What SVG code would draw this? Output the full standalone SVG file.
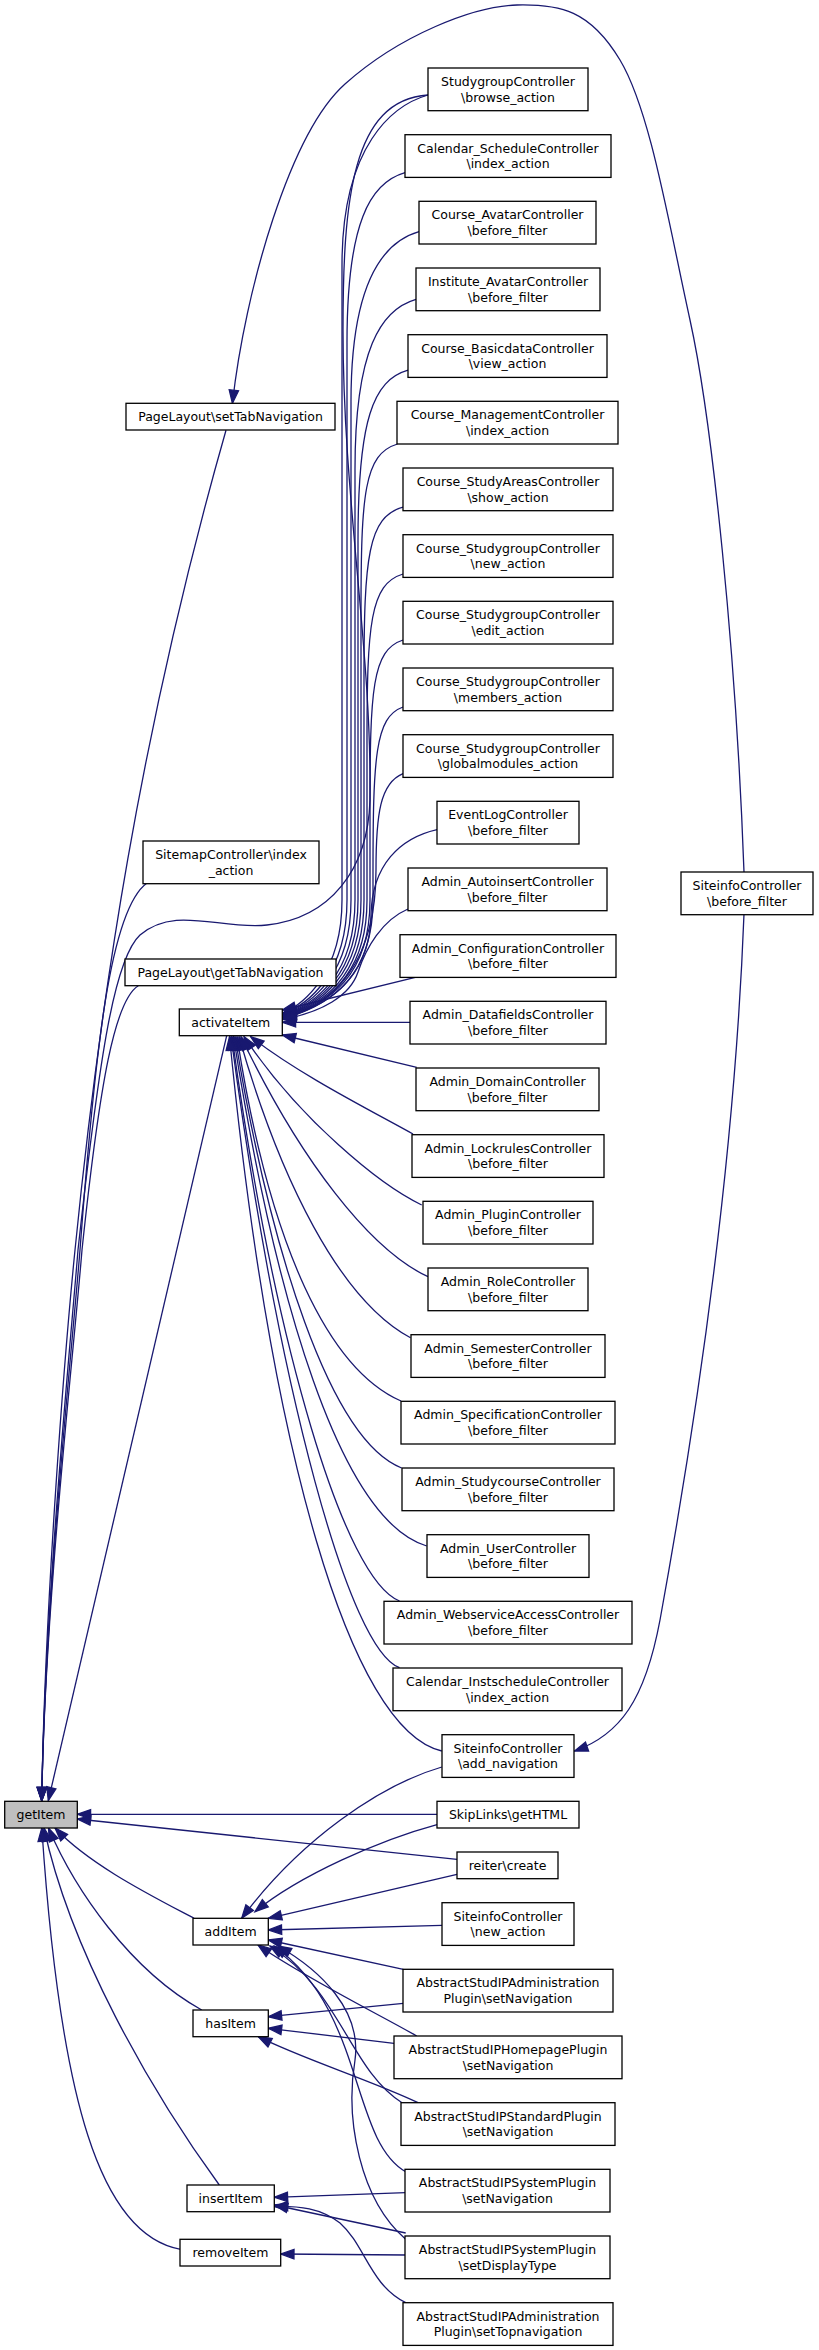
<svg xmlns="http://www.w3.org/2000/svg" width="819" height="2350" viewBox="0 0 819 2350">
<style>
.n rect{fill:#fff;stroke:#000;stroke-width:1.3}
.n text{font-family:"DejaVu Sans","Liberation Sans",sans-serif;font-size:12.5px;text-anchor:middle;fill:#000}
#edges path{fill:none;stroke:#191970;stroke-width:1.3;marker-end:url(#ah)}
</style>
<defs>
<marker id="ah" markerUnits="userSpaceOnUse" markerWidth="18" markerHeight="14" viewBox="-15 -7 18 14" refX="0" refY="0" orient="auto">
<path d="M-13.3,-4.7 L0,0 L-13.3,4.7 Z" fill="#191970" stroke="#191970" stroke-width="1.3"/>
</marker>
</defs>
<rect width="819" height="2350" fill="#fff"/>
<g id="edges">
<!-- big arc SiteinfoController before_filter -> setTabNavigation -->
<path d="M744,872 C736,650 712,420 690,320 C668,220 650,110 620,60 C590,10 560,4 517,5 C474,6 400,35 345,84 C290,133 245,290 232.4,403.4"/>
<!-- before_filter -> add_navigation -->
<path d="M744,914 C735,1150 700,1400 660,1620 C645,1700 620,1735 574.5,1751"/>
<!-- bundle into activateItem right side -->
<path d="M428,95 C393,105 342,145 342,265 L342,900 C342,975 302,1005 282.5,1013.5"/>
<path d="M405,172.7 C370,182.7 347,222.7 347,342.7 L347,900 C347,975 307,1005 282.5,1014"/>
<path d="M419,231.7 C384,241.7 351,281.7 351,401.7 L351,900 C351,975 311,1005 282.5,1014.5"/>
<path d="M416,299.3 C381,309.3 355,349.3 355,469.3 L355,900 C355,975 315,1005 282.5,1015"/>
<path d="M408,370.2 C373,380.2 358,420.2 358,540.2 L358,900 C358,975 318,1005 282.5,1015.5"/>
<path d="M397.5,444 C364,454 361,494 361,614 L361,900 C361,975 321,1005 282.5,1016"/>
<path d="M403,507 C368,517 364,557 364,677 L364,900 C364,975 324,1005 282.5,1016.5"/>
<path d="M403,574 C370,584 367,624 367,744 L367,900 C367,975 327,1005 282.5,1017"/>
<path d="M403,640 C372,650 370,690 370,810 L370,900 C370,975 330,1005 282.5,1017.5"/>
<path d="M403,707 C375,717 373,757 373,877 L373,900 C373,975 333,1005 282.5,1018"/>
<path d="M403,773.7 C380,783 376,815 376,870 C376,960 336,1005 282.5,1018.5"/>
<path d="M437,829.6 C400,838 372,865 371,915 C370,975 332,1005 282.5,1019"/>
<path d="M408,909 C382,920 366,948 358,972 C350,996 322,1012 282.5,1019.5"/>
<path d="M418.3,976.7 L282.3,1010"/>
<path d="M410,1022.3 L282.3,1022.3"/>
<path d="M416.7,1067.3 L282.3,1035"/>
<!-- fan into activateItem bottom -->
<path d="M413,1134 C370,1110 300,1075 250.7,1036.7"/>
<path d="M421.7,1205 C380,1185 300,1120 244,1036.7"/>
<path d="M428,1276.7 C370,1250 300,1160 241,1036.7"/>
<path d="M410.5,1337.8 C340,1300 280,1180 239,1036.7"/>
<path d="M401,1401 C330,1370 270,1250 237,1036.7"/>
<path d="M401.6,1468 C330,1440 270,1250 235,1036.7"/>
<path d="M426.7,1546 C340,1520 275,1300 233.5,1036.7"/>
<path d="M399.5,1601 C345,1580 275,1350 232,1036.7"/>
<path d="M399.5,1667.7 C350,1650 280,1400 231,1036.7"/>
<path d="M441.8,1751 C350,1730 270,1450 229.5,1036.7"/>
<!-- edges into getItem top -->
<path d="M226,430.3 C140.5,730 100,1000 75,1250 C65,1350 45,1600 41.7,1800.7"/>
<path d="M146.7,883.3 C110,910 95,1050 80,1250 C72,1350 45,1600 41.7,1800.7"/>
<path d="M138.3,985.7 C115,1000 100,1080 82,1250 C74,1350 45,1600 41.7,1800.7"/>
<path d="M428,95 C352,100 343,200 343,330 C343,500 372,650 370,800 C368,870 330,918 267,925 C220,930 175,905 140,935 C115,958 100,1050 78,1250 C70,1350 45,1600 41.7,1800.7"/>
<path d="M226.7,1035.7 L48.3,1800.7"/>
<!-- edges into getItem right / bottom -->
<path d="M437,1814.3 L77.3,1814.3"/>
<path d="M457,1859.4 L77.3,1819"/>
<path d="M194,1918.3 C150,1895 90,1865 55,1828"/>
<path d="M201.7,2010 C130,1970 75,1890 48.5,1828"/>
<path d="M219.3,2185 C150,2090 70,1950 44,1828"/>
<path d="M180.7,2249.4 C100,2235 60,2100 41.8,1828"/>
<!-- into addItem -->
<path d="M441.8,1767 C380,1785 300,1840 241.7,1918.3"/>
<path d="M437,1824.6 C380,1840 300,1875 255,1911.7"/>
<path d="M457,1874.4 L268.3,1918.3"/>
<path d="M442,1925.3 L268.3,1930"/>
<path d="M403.3,1969.3 L268.3,1940"/>
<path d="M416.7,2036 C380,2015 300,1975 258,1945"/>
<path d="M402,2102.7 C350,2070 340,1990 270,1946"/>
<path d="M405.7,2171.7 C350,2140 365,2010 274,1946"/>
<path d="M405.7,2239.3 C360,2200 345,2120 355,2060 C362,2010 320,1970 278,1946"/>
<!-- into hasItem -->
<path d="M403.3,2003.3 L268.3,2016.7"/>
<path d="M394,2043.3 L268.3,2028.3"/>
<path d="M418,2102.7 C370,2080 300,2058 258.3,2036.7"/>
<!-- into insertItem / removeItem -->
<path d="M405.7,2192.7 L274.3,2197.3"/>
<path d="M405.7,2233 L274.3,2205"/>
<path d="M405.7,2302.7 C370,2285 365,2245 340,2223 C320,2208 300,2206 274.3,2206.5"/>
<path d="M405.7,2255 L280.7,2254"/>
</g>
<g id="n_getItem" class="n"><rect x="4.7" y="1801.3" width="72.6" height="26.7" style="fill:#bfbfbf"/><text x="41" y="1819">getItem</text></g>
<g id="n_setTabNavigation" class="n"><rect x="126" y="403.3" width="209" height="26.7"/><text x="230.5" y="421">PageLayout\setTabNavigation</text></g>
<g id="n_sitemap" class="n"><rect x="143" y="841" width="176" height="42.7"/><text x="231" y="858.8">SitemapController\index</text><text x="231" y="874.5">_action</text></g>
<g id="n_getTabNavigation" class="n"><rect x="125" y="959" width="211" height="26.7"/><text x="230.5" y="976.7">PageLayout\getTabNavigation</text></g>
<g id="n_activateItem" class="n"><rect x="179.3" y="1009" width="103" height="26.7"/><text x="230.8" y="1026.7">activateItem</text></g>
<g id="n_addItem" class="n"><rect x="193" y="1918.3" width="75.3" height="26.7"/><text x="230.6" y="1936">addItem</text></g>
<g id="n_hasItem" class="n"><rect x="193" y="2010" width="75.3" height="26.7"/><text x="230.6" y="2027.7">hasItem</text></g>
<g id="n_insertItem" class="n"><rect x="187" y="2185" width="87.3" height="26.7"/><text x="230.6" y="2202.7">insertItem</text></g>
<g id="n_removeItem" class="n"><rect x="180" y="2239.3" width="100.7" height="26.7"/><text x="230.4" y="2257">removeItem</text></g>
<g id="n_siteinfo_before" class="n"><rect x="681" y="872" width="132" height="42.7"/><text x="747" y="889.8">SiteinfoController</text><text x="747" y="905.5">\before_filter</text></g>
<g id="n_browse" class="n"><rect x="428" y="68" width="160" height="42.7"/><text x="508" y="85.8">StudygroupController</text><text x="508" y="101.5">\browse_action</text></g>
<g id="n_cal_schedule" class="n"><rect x="405" y="134.7" width="206" height="42.7"/><text x="508" y="152.5">Calendar_ScheduleController</text><text x="508" y="168.2">\index_action</text></g>
<g id="n_course_avatar" class="n"><rect x="419" y="201.3" width="177" height="42.7"/><text x="507.5" y="219.1">Course_AvatarController</text><text x="507.5" y="234.8">\before_filter</text></g>
<g id="n_inst_avatar" class="n"><rect x="416" y="268" width="184" height="42.7"/><text x="508" y="285.8">Institute_AvatarController</text><text x="508" y="301.5">\before_filter</text></g>
<g id="n_basicdata" class="n"><rect x="408" y="334.7" width="199" height="42.7"/><text x="507.5" y="352.5">Course_BasicdataController</text><text x="507.5" y="368.2">\view_action</text></g>
<g id="n_management" class="n"><rect x="397" y="401.3" width="221" height="42.7"/><text x="507.5" y="419.1">Course_ManagementController</text><text x="507.5" y="434.8">\index_action</text></g>
<g id="n_studyareas" class="n"><rect x="403" y="468" width="210" height="42.7"/><text x="508" y="485.8">Course_StudyAreasController</text><text x="508" y="501.5">\show_action</text></g>
<g id="n_sg_new" class="n"><rect x="403" y="534.7" width="210" height="42.7"/><text x="508" y="552.5">Course_StudygroupController</text><text x="508" y="568.2">\new_action</text></g>
<g id="n_sg_edit" class="n"><rect x="403" y="601.3" width="210" height="42.7"/><text x="508" y="619.1">Course_StudygroupController</text><text x="508" y="634.8">\edit_action</text></g>
<g id="n_sg_members" class="n"><rect x="403" y="668" width="210" height="42.7"/><text x="508" y="685.8">Course_StudygroupController</text><text x="508" y="701.5">\members_action</text></g>
<g id="n_sg_global" class="n"><rect x="403" y="734.7" width="210" height="42.7"/><text x="508" y="752.5">Course_StudygroupController</text><text x="508" y="768.2">\globalmodules_action</text></g>
<g id="n_eventlog" class="n"><rect x="437" y="801.3" width="142" height="42.7"/><text x="508" y="819.1">EventLogController</text><text x="508" y="834.8">\before_filter</text></g>
<g id="n_autoinsert" class="n"><rect x="408" y="868" width="199" height="42.7"/><text x="507.5" y="885.8">Admin_AutoinsertController</text><text x="507.5" y="901.5">\before_filter</text></g>
<g id="n_configuration" class="n"><rect x="400" y="934.7" width="216" height="42.7"/><text x="508" y="952.5">Admin_ConfigurationController</text><text x="508" y="968.2">\before_filter</text></g>
<g id="n_datafields" class="n"><rect x="410" y="1001.3" width="196" height="42.7"/><text x="508" y="1019.1">Admin_DatafieldsController</text><text x="508" y="1034.8">\before_filter</text></g>
<g id="n_domain" class="n"><rect x="416" y="1068" width="183" height="42.7"/><text x="507.5" y="1085.8">Admin_DomainController</text><text x="507.5" y="1101.5">\before_filter</text></g>
<g id="n_lockrules" class="n"><rect x="412" y="1134.7" width="192" height="42.7"/><text x="508" y="1152.5">Admin_LockrulesController</text><text x="508" y="1168.2">\before_filter</text></g>
<g id="n_plugin" class="n"><rect x="423" y="1201.3" width="170" height="42.7"/><text x="508" y="1219.1">Admin_PluginController</text><text x="508" y="1234.8">\before_filter</text></g>
<g id="n_role" class="n"><rect x="428" y="1268" width="160" height="42.7"/><text x="508" y="1285.8">Admin_RoleController</text><text x="508" y="1301.5">\before_filter</text></g>
<g id="n_semester" class="n"><rect x="411" y="1334.7" width="194" height="42.7"/><text x="508" y="1352.5">Admin_SemesterController</text><text x="508" y="1368.2">\before_filter</text></g>
<g id="n_specification" class="n"><rect x="401" y="1401.3" width="214" height="42.7"/><text x="508" y="1419.1">Admin_SpecificationController</text><text x="508" y="1434.8">\before_filter</text></g>
<g id="n_studycourse" class="n"><rect x="402" y="1468" width="212" height="42.7"/><text x="508" y="1485.8">Admin_StudycourseController</text><text x="508" y="1501.5">\before_filter</text></g>
<g id="n_user" class="n"><rect x="427" y="1534.7" width="162" height="42.7"/><text x="508" y="1552.5">Admin_UserController</text><text x="508" y="1568.2">\before_filter</text></g>
<g id="n_webservice" class="n"><rect x="384" y="1601.3" width="248" height="42.7"/><text x="508" y="1619.1">Admin_WebserviceAccessController</text><text x="508" y="1634.8">\before_filter</text></g>
<g id="n_cal_inst" class="n"><rect x="393" y="1668" width="229" height="42.7"/><text x="507.5" y="1685.8">Calendar_InstscheduleController</text><text x="507.5" y="1701.5">\index_action</text></g>
<g id="n_add_navigation" class="n"><rect x="442" y="1734.7" width="132" height="42.7"/><text x="508" y="1752.5">SiteinfoController</text><text x="508" y="1768.2">\add_navigation</text></g>
<g id="n_skiplinks" class="n"><rect x="437" y="1801.3" width="142" height="26.7"/><text x="508" y="1819">SkipLinks\getHTML</text></g>
<g id="n_reiter" class="n"><rect x="457" y="1852" width="101" height="26.7"/><text x="507.5" y="1869.7">reiter\create</text></g>
<g id="n_siteinfo_new" class="n"><rect x="442" y="1902.7" width="132" height="42.7"/><text x="508" y="1920.5">SiteinfoController</text><text x="508" y="1936.2">\new_action</text></g>
<g id="n_admin_setnav" class="n"><rect x="403" y="1969.3" width="210" height="42.7"/><text x="508" y="1987.1">AbstractStudIPAdministration</text><text x="508" y="2002.8">Plugin\setNavigation</text></g>
<g id="n_homepage_setnav" class="n"><rect x="394" y="2036" width="228" height="42.7"/><text x="508" y="2053.8">AbstractStudIPHomepagePlugin</text><text x="508" y="2069.5">\setNavigation</text></g>
<g id="n_standard_setnav" class="n"><rect x="401" y="2102.7" width="214" height="42.7"/><text x="508" y="2120.5">AbstractStudIPStandardPlugin</text><text x="508" y="2136.2">\setNavigation</text></g>
<g id="n_system_setnav" class="n"><rect x="405" y="2169.3" width="205" height="42.7"/><text x="507.5" y="2187.1">AbstractStudIPSystemPlugin</text><text x="507.5" y="2202.8">\setNavigation</text></g>
<g id="n_system_setdisplay" class="n"><rect x="405" y="2236" width="205" height="42.7"/><text x="507.5" y="2253.8">AbstractStudIPSystemPlugin</text><text x="507.5" y="2269.5">\setDisplayType</text></g>
<g id="n_admin_settopnav" class="n"><rect x="403" y="2302.7" width="210" height="42.7"/><text x="508" y="2320.5">AbstractStudIPAdministration</text><text x="508" y="2336.2">Plugin\setTopnavigation</text></g>
</svg>
